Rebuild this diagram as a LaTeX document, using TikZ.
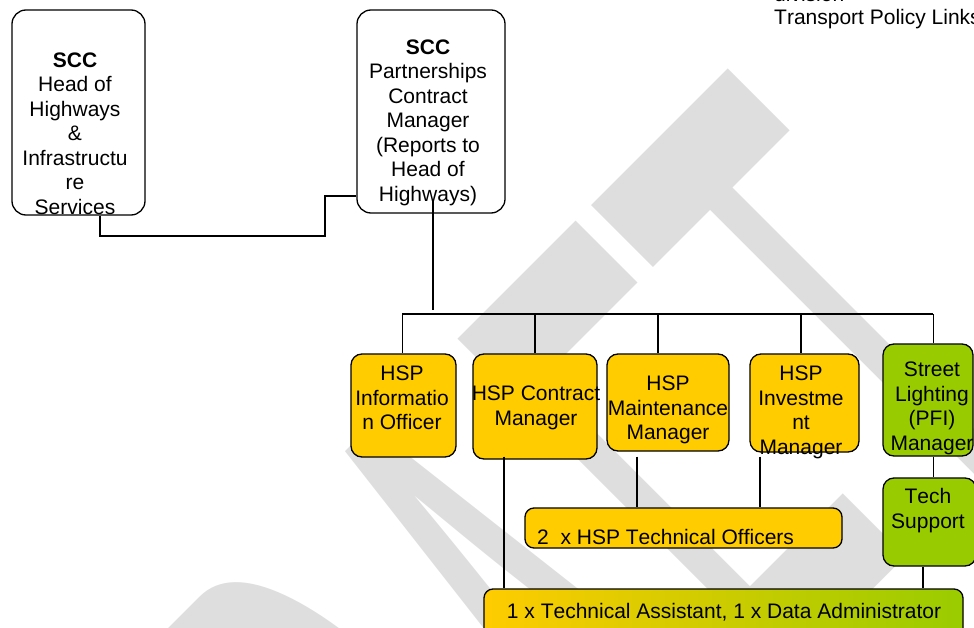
\documentclass[tikz,border=0pt]{standalone}
\usepackage{fontspec}
\setmainfont[Kerning=Off]{Liberation Sans}
\definecolor{hspyellow}{HTML}{FFCC00}
\definecolor{slgreen}{HTML}{99CC00}
\definecolor{wmgray}{HTML}{DEDEDE}
\begin{document}
\begin{tikzpicture}[x=1pt,y=-1pt,
  box/.style={draw=black, line width=1.3pt, rounded corners=14pt, fill=white, inner sep=0pt},
  hsp/.style={box, fill=hspyellow, rounded corners=11pt},
  pfi/.style={box, fill=slgreen, rounded corners=11pt},
  lbl/.style={font=\fontsize{21}{24.5}\selectfont, align=center, inner sep=0pt, anchor=base},
  link/.style={line width=1.3pt},
  drop/.style={line width=1pt}]
\useasboundingbox (0,0) rectangle (974,628);
\begin{scope}
\clip (0,0) rectangle (974,628);

% background watermark
\begin{scope}[shift={(1293.7,622.2)}]
  \node[anchor=base east, inner sep=0pt, text=wmgray,
        font=\fontsize{100}{100}\selectfont,
        rotate=45, xscale=3.42, yscale=11.5, transform shape] (wm) at (0,0) {DRAFT};
\end{scope}

% SCC boxes (labels anchored at the baseline of their last line)
\node[box, minimum width=133pt, minimum height=205pt] (hoh) at (78.5,112.5) {};
\node[lbl] (hoh-t) at (75,214.5) {\textbf{SCC}\\Head of\\Highways\\\&\\Infrastructu\\re\\Services};
\node[box, minimum width=148pt, minimum height=203pt] (pcm) at (431,111.5) {};
\node[lbl] (pcm-t) at (428,201.5) {\textbf{SCC}\\Partnerships\\Contract\\Manager\\(Reports to\\Head of\\Highways)};

% HSP team boxes
\node[hsp, minimum width=105pt, minimum height=103pt] (info) at (403.5,405.5) {};
\node[lbl] (info-t) at (402,429.5) {HSP\\Informatio\\n Officer};
\node[hsp, minimum width=124pt, minimum height=105pt] (con) at (535,406.5) {};
\node[lbl] (con-t) at (536,425) {HSP Contract\\Manager};
\node[hsp, minimum width=122pt, minimum height=97pt] (mnt) at (668,402.5) {};
\node[lbl] (mnt-t) at (668,439.5) {HSP\\Maintenance\\Manager};
\node[hsp, minimum width=109pt, minimum height=98pt] (inv) at (804.5,403) {};
\node[lbl] (inv-t) at (801,454) {HSP\\Investme\\nt\\Manager};
\node[pfi, minimum width=90pt, minimum height=112pt] (sl) at (928,400) {};
\node[lbl] (sl-t) at (932,450) {Street\\Lighting\\(PFI)\\Manager};
\node[pfi, minimum width=93pt, minimum height=88pt] (ts) at (929.5,522) {};
\node[lbl] (ts-t) at (928,528) {Tech\\Support};
\node[hsp, rounded corners=9pt, minimum width=317pt, minimum height=40pt] (off) at (683.5,528) {};
\node[lbl, anchor=base west] (off-t) at (537,544.5) {2\ \ x HSP Technical Officers};
\node[hsp, rounded corners=9pt, left color=hspyellow, right color=slgreen,
      minimum width=479pt, minimum height=61pt] (bot) at (723.5,619.5) {};
\node[lbl] (bot-t) at (724,618.5) {1 x Technical Assistant, 1 x Data Administrator};

% heading text, top right
\node[lbl, anchor=base west] (div-t) at (774,1.5) {division};
\node[lbl, anchor=base west] (tpl-t) at (774,25) {Transport Policy Links};

% reporting lines
\coordinate (bend) at (325,236);
\draw[link] ([xshift=21.5pt]hoh.south) |- (bend) |- ([yshift=-84.5pt]pcm.west);
\coordinate (hub) at (433,310);
\draw[link] ([xshift=2pt,yshift=13pt]pcm.south) -- (hub);
\coordinate (busL) at (402,314);
\coordinate (busR) at (933,314);
\draw[link] (busL) -- (busR);
\coordinate (mntTop) at ([xshift=-10pt]mnt.north);
\coordinate (invTop) at ([xshift=-3.5pt]inv.north);
\coordinate (slTop) at ([xshift=5pt]sl.north);
\draw[drop] (busL) -- (busL |- info.north);
\draw[link] (con.north |- busL) -- (con.north);
\draw[link] (mntTop |- busL) -- (mntTop);
\draw[link] (invTop |- busL) -- (invTop);
\draw[drop] (slTop |- busL) -- (slTop);
\draw[drop] ([xshift=5pt]sl.south) -- ([xshift=3.5pt]ts.north);
\coordinate (conLow) at ([xshift=-31pt,yshift=3pt]con.south);
\draw[link] (conLow) -- (conLow |- bot.north);
\coordinate (mntLow) at ([xshift=-31pt,yshift=-5pt]mnt.south);
\draw[link] (mntLow) -- (mntLow |- off.north);
\coordinate (invLow) at ([xshift=-44.5pt,yshift=-4pt]inv.south);
\draw[link] (invLow) -- (invLow |- off.north);
\coordinate (tsLow) at ([xshift=-6.5pt]ts.south);
\draw[link] (tsLow) -- (tsLow |- bot.north);
\end{scope}
\end{tikzpicture}
\end{document}
